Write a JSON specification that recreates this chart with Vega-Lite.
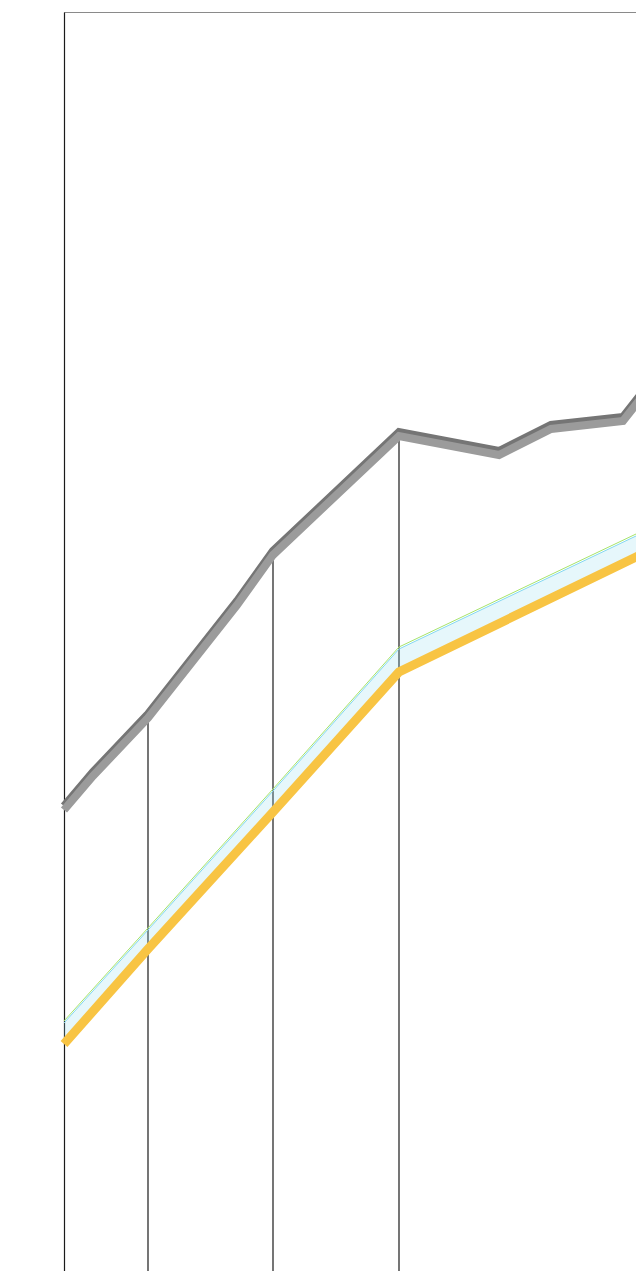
{
  "$schema": "https://vega.github.io/schema/vega-lite/v6.json",
  "width": 640,
  "height": 1259,
  "autosize": {"type": "none"},
  "padding": {"left": 64, "top": 12, "right": 0, "bottom": 0},
  "background": "white",
  "config": {"view": {"stroke": "#8a8a8a", "strokeWidth": 1}},
  "datasets": {
    "gray": [
      {"x": 0, "hi": 465, "lo": 461},
      {"x": 29, "hi": 499, "lo": 495},
      {"x": 84, "hi": 557, "lo": 553},
      {"x": 173, "hi": 670, "lo": 666},
      {"x": 209, "hi": 720, "lo": 716},
      {"x": 335, "hi": 839, "lo": 835},
      {"x": 435, "hi": 820, "lo": 816},
      {"x": 487, "hi": 846, "lo": 842},
      {"x": 559, "hi": 854, "lo": 850},
      {"x": 596, "hi": 901, "lo": 897}
    ],
    "band": [
      {"x": 0, "green": 250, "cyan": 248, "orange": 227},
      {"x": 84, "green": 343, "cyan": 341, "orange": 322},
      {"x": 209, "green": 482, "cyan": 480, "orange": 459},
      {"x": 335, "green": 624, "cyan": 622, "orange": 599},
      {"x": 572, "green": 737, "cyan": 735, "orange": 714},
      {"x": 636, "green": 768, "cyan": 766, "orange": 745}
    ],
    "rules": [
      {"x": 84, "top": 554},
      {"x": 209, "top": 717},
      {"x": 335, "top": 836}
    ]
  },
  "encoding": {
    "x": {"field": "x", "type": "quantitative", "scale": {"domain": [0, 640], "nice": false, "zero": false}, "axis": null}
  },
  "layer": [
    {
      "data": {"name": "rules"},
      "mark": {"type": "rule", "color": "#1a1a1a", "strokeWidth": 1.2},
      "encoding": {
        "y": {"field": "top", "type": "quantitative", "scale": {"domain": [0, 1259], "nice": false, "zero": false}, "axis": {"labels": false, "ticks": false, "grid": false, "title": null, "domainColor": "#1a1a1a", "domainWidth": 1.2}},
        "y2": {"datum": 0}
      }
    },
    {
      "data": {"name": "band"},
      "mark": {"type": "area", "color": "#8fdcef", "opacity": 0.22},
      "encoding": {
        "y": {"field": "cyan", "type": "quantitative"},
        "y2": {"field": "orange"}
      }
    },
    {
      "data": {"name": "band"},
      "mark": {"type": "line", "color": "#a6e36a", "strokeWidth": 1},
      "encoding": {"y": {"field": "green", "type": "quantitative"}}
    },
    {
      "data": {"name": "band"},
      "mark": {"type": "line", "color": "#84d8f0", "strokeWidth": 1},
      "encoding": {"y": {"field": "cyan", "type": "quantitative"}}
    },
    {
      "data": {"name": "band"},
      "mark": {"type": "line", "color": "#f8c443", "strokeWidth": 9},
      "encoding": {"y": {"field": "orange", "type": "quantitative"}}
    },
    {
      "data": {"name": "gray"},
      "mark": {"type": "line", "color": "#757575", "strokeWidth": 8},
      "encoding": {"y": {"field": "hi", "type": "quantitative"}}
    },
    {
      "data": {"name": "gray"},
      "mark": {"type": "line", "color": "#9b9b9b", "strokeWidth": 8},
      "encoding": {"y": {"field": "lo", "type": "quantitative"}}
    }
  ]
}
